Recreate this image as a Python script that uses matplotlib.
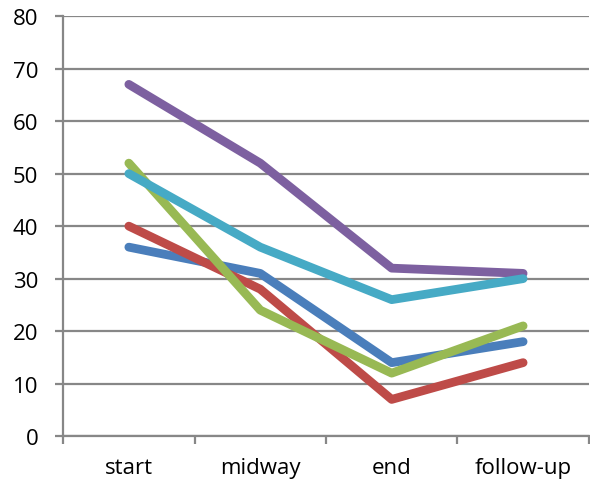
import matplotlib.pyplot as plt

# stages and the five series measured at each
stages = ["start", "midway", "end", "follow-up"]
series_1 = [36, 31, 14, 18]
series_2 = [40, 28, 7, 14]
series_3 = [52, 24, 12, 21]
series_4 = [67, 52, 32, 31]
series_5 = [50, 36, 26, 30]

colors = ["#4A7EBB", "#BE4B48", "#98B954", "#7D60A0", "#46AAC5"]

plt.rcParams["font.family"] = ["Open Sans", "DejaVu Sans"]

fig = plt.figure(figsize=(5.9, 4.89), dpi=100)
ax = fig.add_axes([0.107, 0.106, 0.891, 0.859])

x = range(len(stages))
for values, color in zip([series_1, series_2, series_3, series_4, series_5], colors):
    ax.plot(x, values, color=color, linewidth=6.3,
            solid_capstyle="round", solid_joinstyle="round", zorder=3)

ax.set_xlim(-0.5, len(stages) - 0.5)
ax.set_ylim(0, 80)
ax.set_yticks(range(0, 81, 10))
# category boundaries get the tick marks, labels sit in between
ax.set_xticks([i - 0.5 for i in range(len(stages) + 1)], minor=False)
ax.set_xticklabels([])
ax.set_xticks(list(x), minor=True)
ax.set_xticklabels(stages, minor=True)

grid_color = "#878787"
ax.grid(axis="y", color=grid_color, linewidth=1.6, zorder=1)
for side in ["top", "right"]:
    ax.spines[side].set_visible(False)
for side in ["left", "bottom"]:
    ax.spines[side].set_color(grid_color)
    ax.spines[side].set_linewidth(1.6)

ax.tick_params(axis="y", direction="out", length=6, width=1.6, color=grid_color,
               labelsize=16, pad=12)
ax.tick_params(axis="x", which="major", direction="out", length=6, width=1.6,
               color=grid_color)
ax.tick_params(axis="x", which="minor", length=0, labelsize=16, pad=15)

fig.savefig("out.png", dpi=100)
